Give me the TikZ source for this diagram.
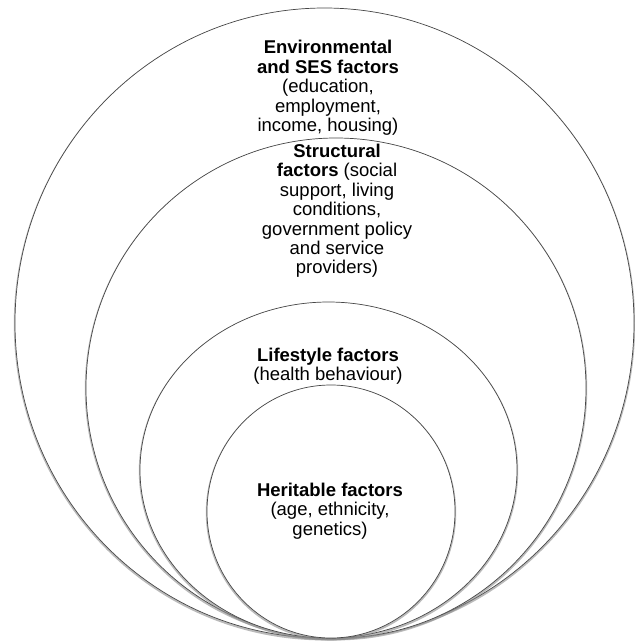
\documentclass[tikz,border=0pt]{standalone}
\usepackage{fontspec}
\setmainfont{Liberation Sans}
\usetikzlibrary{shapes.geometric}
\begin{document}
\begin{tikzpicture}[x=1pt,y=-1pt,
  ring/.style={ellipse, inner sep=0pt, outer sep=0pt, fill=white,
    draw=black!72, line width=0.7pt,
    preaction={draw=black!45, line width=2.4pt, opacity=0.6,
      transform canvas={yshift=-1.2pt}}},
  label/.style={align=center, inner sep=0pt,
    font=\fontsize{18.5}{19.4}\selectfont}]
\useasboundingbox (0,0) rectangle (635,641);
% nested rings, all touching at the bottom
\node[ring, minimum width=619pt, minimum height=630pt] (envring)    at (324.5,323) {};
\node[ring, minimum width=500pt, minimum height=500pt] (structring) at (336,388) {};
\node[ring, minimum width=377pt, minimum height=336pt] (lifering)   at (328.5,470) {};
\node[ring, minimum width=248pt, minimum height=253pt] (heritring)  at (331,511.5) {};
% ring labels
\node[label] (envtext) at (328,88)
  {\textbf{Environmental}\\\textbf{and SES factors}\\(education,\\employment,\\income, housing)};
\node[label] (structtext) at (337,211)
  {\textbf{Structural}\\\textbf{factors} (social\\support, living\\conditions,\\government policy\\and service\\providers)};
\node[label] (lifetext) at (328,366)
  {\textbf{Lifestyle factors}\\(health behaviour)};
\node[label] (herittext) at (330,511)
  {\textbf{Heritable factors}\\(age, ethnicity,\\genetics)};
\end{tikzpicture}
\end{document}
